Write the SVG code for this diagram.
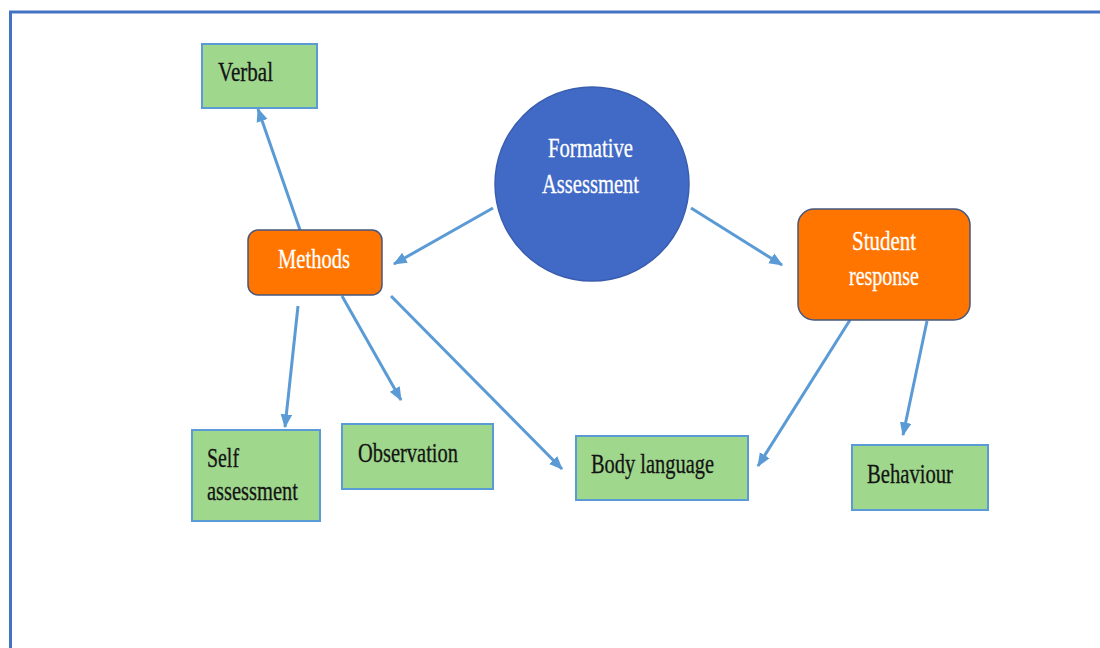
<svg xmlns="http://www.w3.org/2000/svg" width="1100" height="648" viewBox="0 0 1100 648">
  <style>
    .frame { fill: none; stroke: #4472C4; stroke-width: 3; }
    .leaf { fill: #9FD78C; stroke: #5B9BD5; stroke-width: 2; }
    .hub { fill: #FF7500; stroke: #45577F; stroke-width: 1.5; }
    .core { fill: #4169C6; stroke: #3A5DAE; stroke-width: 1.5; }
    .edge { stroke: #5B9BD5; stroke-width: 3; fill: none; marker-end: url(#arrow); }
    text { font-family: "Liberation Serif", "Times New Roman", serif; font-size: 27px; }
    .dark { fill: #141414; stroke: #141414; stroke-width: 0.3; }
    .light { fill: #FFFFFF; stroke: #FFFFFF; stroke-width: 0.3; }
  </style>
  <defs>
    <marker id="arrow" viewBox="0 0 12 10" refX="11" refY="5" markerWidth="4.6" markerHeight="4" orient="auto" markerUnits="strokeWidth">
      <path d="M0,0 L12,5 L0,10 Z" fill="#5B9BD5"/>
    </marker>
  </defs>

  <rect width="1100" height="648" fill="#FFFFFF"/>
  <rect class="frame" x="10.5" y="12" width="1200" height="700"/>

  <g id="connectors">
    <line class="edge" x1="300" y1="230" x2="258" y2="109"/>
    <line class="edge" x1="493" y1="208" x2="394" y2="264"/>
    <line class="edge" x1="691" y1="208" x2="782" y2="265"/>
    <line class="edge" x1="298" y1="306" x2="285" y2="427"/>
    <line class="edge" x1="342" y1="296" x2="401" y2="400"/>
    <line class="edge" x1="391" y1="296" x2="562" y2="469"/>
    <line class="edge" x1="850" y1="320" x2="758" y2="466"/>
    <line class="edge" x1="927" y1="321" x2="903" y2="435"/>
  </g>

  <g id="verbal">
    <rect class="leaf" x="202" y="44" width="115" height="64"/>
    <text class="dark" x="218" y="81" textLength="55" lengthAdjust="spacingAndGlyphs">Verbal</text>
  </g>

  <g id="methods">
    <rect class="hub" x="248" y="230" width="134" height="65" rx="10"/>
    <text class="light" x="278" y="268" textLength="72" lengthAdjust="spacingAndGlyphs">Methods</text>
  </g>

  <g id="formative-assessment">
    <circle class="core" cx="592" cy="184" r="97"/>
    <text class="light" x="548" y="157" textLength="85" lengthAdjust="spacingAndGlyphs">Formative</text>
    <text class="light" x="542" y="193" textLength="97" lengthAdjust="spacingAndGlyphs">Assessment</text>
  </g>

  <g id="student-response">
    <rect class="hub" x="798" y="209" width="172" height="111" rx="16"/>
    <text class="light" x="852" y="250" textLength="64" lengthAdjust="spacingAndGlyphs">Student</text>
    <text class="light" x="849" y="285" textLength="70" lengthAdjust="spacingAndGlyphs">response</text>
  </g>

  <g id="self-assessment">
    <rect class="leaf" x="192" y="430" width="128" height="91"/>
    <text class="dark" x="207" y="467" textLength="32" lengthAdjust="spacingAndGlyphs">Self</text>
    <text class="dark" x="207" y="500" textLength="91" lengthAdjust="spacingAndGlyphs">assessment</text>
  </g>

  <g id="observation">
    <rect class="leaf" x="342" y="424" width="151" height="65"/>
    <text class="dark" x="358" y="462" textLength="100" lengthAdjust="spacingAndGlyphs">Observation</text>
  </g>

  <g id="body-language">
    <rect class="leaf" x="576" y="436" width="172" height="64"/>
    <text class="dark" x="591" y="473" textLength="123" lengthAdjust="spacingAndGlyphs">Body language</text>
  </g>

  <g id="behaviour">
    <rect class="leaf" x="852" y="445" width="136" height="65"/>
    <text class="dark" x="867" y="483" textLength="86" lengthAdjust="spacingAndGlyphs">Behaviour</text>
  </g>
</svg>
